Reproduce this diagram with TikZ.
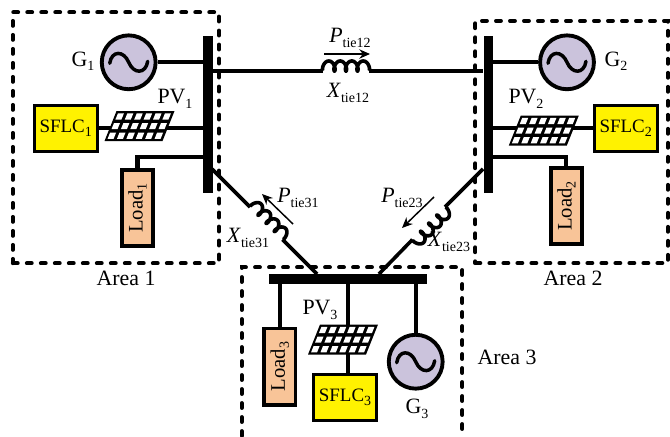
\documentclass[tikz,border=0pt]{standalone}
\usepackage{fontspec}
\setmainfont{Liberation Serif}
\usetikzlibrary{positioning, arrows.meta, calc}
\definecolor{genfill}{RGB}{203,195,220}
\definecolor{loadfill}{RGB}{248,196,152}
\newcommand{\lowidx}[1]{\raisebox{-.2em}{\fontsize{10.5}{12}\selectfont #1}}
\tikzset{
  txt/.style={inner sep=0pt, font=\fontsize{16.4}{18}\selectfont},
  wire/.style={line width=3.1pt},
  tieline/.style={line width=2.7pt},
  busbar/.style={fill=black, inner sep=0pt},
  areabox/.style={line width=2.9pt, line cap=round, dash pattern=on 3.75pt off 6.75pt},
  sflc/.style={draw, line width=2.4pt, fill=yellow, inner sep=0pt, minimum width=47.2pt, minimum height=34.5pt, font=\fontsize{14.2}{16}\selectfont},
  loadbox/.style={draw, line width=2.9pt, fill=loadfill, inner sep=0pt, rotate=90, minimum width=57.4pt, minimum height=23.6pt, font=\fontsize{15.5}{16}\selectfont},
  gen/.style={circle, draw, line width=2.9pt, fill=genfill, inner sep=0pt, minimum size=40.4pt,
    path picture={\draw[shift={(path picture bounding box.center)}, line width=2.6pt, line cap=round] (-19,1)
      .. controls (-17,-12) and (-5,-12) .. (0,0) .. controls (5,12) and (17,12) .. (19,-1);}},
  flow/.style={-{Stealth[length=8pt, width=7pt]}, line width=1.1pt},
  coilpic/.pic={\draw[tieline] plot[domain=0:25.13, samples=120, smooth]
    ({1.83*\x-2.8*sin(\x r)}, {-5*(1-cos(\x r))});},
  pvpanel/.pic={
    \fill (-35,15) -- (-23,-15) -- (35,-15) -- (23,15) -- cycle;
    \foreach \r in {0,1,2} \foreach \c in {0,...,5}
      \fill[white] ({-31.9+\c*9.4+\r*3.9},{12.8-\r*9.6}) -- ++(2.5,-6.2) -- ++(6,0) -- ++(-2.5,6.2) -- cycle;
  }
}
\begin{document}
\begin{tikzpicture}[x=.75pt, y=-.75pt]
\useasboundingbox (0,0) rectangle (670,436);
% areas
\node[areabox, draw, inner sep=0pt, minimum width=154.7pt, minimum height=188.2pt] (area1) at (115.9,137.8) {};
\node[areabox, draw, inner sep=0pt, minimum width=144.5pt, minimum height=181.7pt] (area2) at (571.7,142) {};
\coordinate (a3l) at (241.7,436);
\coordinate (a3r) at (462.3,436);
\coordinate (a3t) at (352,267.3);
\draw[areabox] (a3l) |- (a3t) -| (a3r);
% buses
\node[busbar, minimum width=7.2pt, minimum height=117.8pt] (bus1) at (207.7,114.5) {};
\node[busbar, minimum width=7.2pt, minimum height=117.8pt] (bus2) at (488.3,114.5) {};
\node[busbar, minimum width=118.5pt, minimum height=7.5pt] (bus3) at (348,279) {};
% generators, controllers, loads
\node[gen] (g1) at (128.7,62.3) {};
\node[gen] (g2) at (567,62.3) {};
\node[gen] (g3) at (415.7,361.7) {};
\node[sflc] (sflc1) at (65.7,128.3) {SFLC\lowidx{1}};
\node[sflc] (sflc2) at (625.7,128.3) {SFLC\lowidx{2}};
\node[sflc] (sflc3) at (345,397.3) {SFLC\lowidx{3}};
\node[loadbox] (load1) at (137.5,208) {Load\lowidx{1}\hspace{4pt}};
\node[loadbox] (load2) at (566.4,206) {Load\lowidx{2}};
\node[loadbox] (load3) at (279.8,366.7) {Load\lowidx{3}};
% bus connections
\coordinate (pv3w) at (347.7,300);
\draw[wire] (g1) -- (g1 -| bus1.west);
\draw[wire] (g2) -- (g2 -| bus2.east);
\draw[wire] (g3) -- (g3 |- bus3.south);
\draw[wire] (load1.east) |- (bus1.west |- 0,157);
\draw[wire] (load2.east) |- (bus2.east |- 0,157);
\draw[wire] (load3.east) -- (load3.east |- bus3.south);
\draw[wire] (sflc1) -- (sflc1 -| bus1.west);
\draw[wire] (sflc2) -- (sflc2 -| bus2.east);
\draw[wire] (pv3w |- sflc3.north) -- (pv3w |- bus3.south);
% panels
\pic at (139.5,126) {pvpanel};
\pic at (543.8,130.5) {pvpanel};
\pic at (343,339.5) {pvpanel};
% tie lines
\coordinate (c12a) at (323,71);
\coordinate (c12b) at (369,71);
\coordinate (c31a) at (250,207);
\coordinate (c31b) at (282.5,239.5);
\coordinate (c23a) at (445,207);
\coordinate (c23b) at (412.5,239.5);
\draw[tieline] (bus1.east |- c12a) -- (c12a);
\draw[tieline] (c12b) -- (bus2.west |- c12b);
\pic at (c12a) {coilpic};
\draw[tieline] (212,169) -- (c31a);
\draw[tieline] (c31b) -- (317,274);
\pic[rotate=-45] at (c31a) {coilpic};
\draw[tieline] (483,169) -- (c23a);
\draw[tieline] (c23b) -- (379,274);
\pic[rotate=-135] at (c23a) {coilpic};
% flows
\draw[flow] (324,54) -- (370,54);
\draw[flow] (293,224) -- (262,194);
\draw[flow] (434,197) -- (402,228);
% labels
\node[txt] (lg1) at (83,61) {G\lowidx{1}};
\node[txt] (lg2) at (616,61) {G\lowidx{2}};
\node[txt] (lg3) at (417,409) {G\lowidx{3}};
\node[txt] (lpv1) at (175,99) {PV\lowidx{1}};
\node[txt] (lpv2) at (526,99) {PV\lowidx{2}};
\node[txt] (lpv3) at (320,310) {PV\lowidx{3}};
\node[txt] (lp12) at (350,38) {\textit{P}\lowidx{tie12}};
\node[txt] (lx12) at (348,93) {\textit{X}\lowidx{tie12}};
\node[txt] (lp31) at (298,198) {\textit{P}\lowidx{tie31}};
\node[txt] (lx31) at (248,238) {\textit{X}\lowidx{tie31}};
\node[txt] (lp23) at (402,198) {\textit{P}\lowidx{tie23}};
\node[txt] (lx23) at (449,242) {\textit{X}\lowidx{tie23}};
\node[txt] (la1) at (126,278) {Area 1};
\node[txt] (la2) at (573,278) {Area 2};
\node[txt] (la3) at (507,357) {Area 3};
\end{tikzpicture}
\end{document}
